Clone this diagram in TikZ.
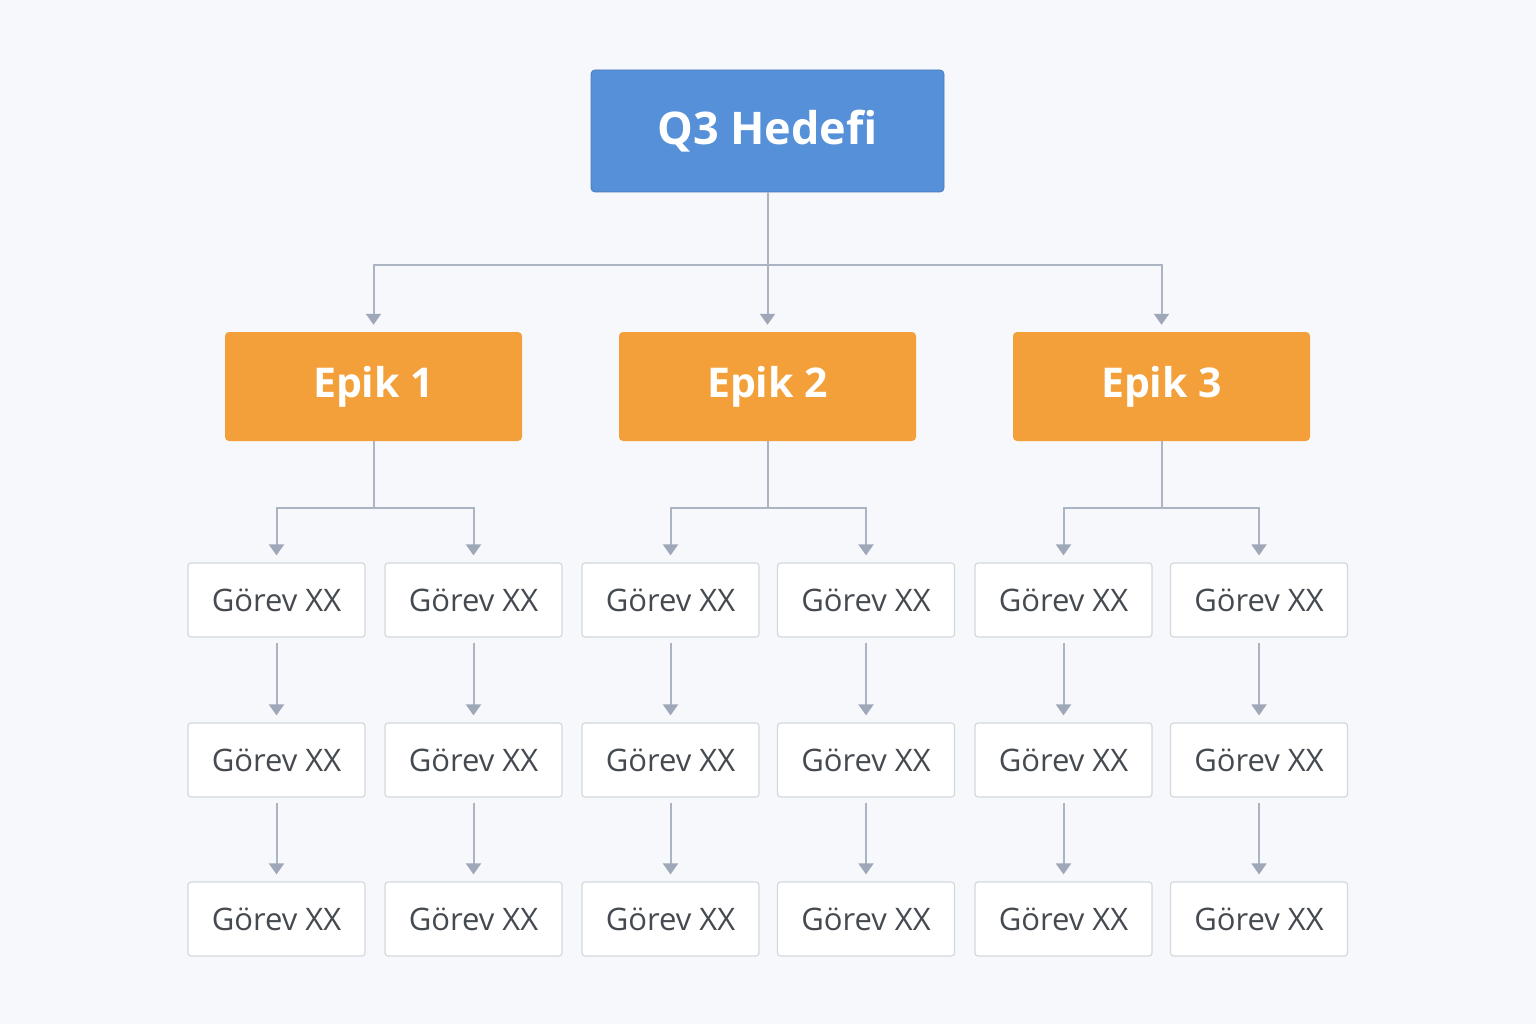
\documentclass[tikz,border=0pt]{standalone}
\usepackage{fontspec}
\setmainfont{Open Sans}
\usetikzlibrary{arrows.meta}
\definecolor{bg}{HTML}{F7F8FB}
\definecolor{blu}{HTML}{5690D8}
\definecolor{org}{HTML}{F3A03A}
\definecolor{ln}{HTML}{AAB4C2}
\definecolor{tip}{HTML}{9EA8B8}
\definecolor{gb}{HTML}{D3D8DE}
\definecolor{gt}{HTML}{454A50}
\begin{document}
\begin{tikzpicture}[x=1pt,y=-1pt,
 goal/.style={fill=blu,draw=blu!85!black,line width=0.8pt,rounded corners=4pt,minimum width=353pt,minimum height=122pt,text=white,font=\fontsize{45}{50}\selectfont\bfseries},
 epik/.style={fill=org,rounded corners=4pt,minimum width=297pt,minimum height=109pt,text=white,font=\fontsize{41}{46}\selectfont\bfseries},
 task/.style={fill=white,draw=gb,line width=1.2pt,rounded corners=3pt,minimum width=177pt,minimum height=74pt,text=gt,font=\fontsize{31}{36}\selectfont},
 con/.style={draw=ln,line width=2pt,-{Triangle[width=15pt,length=11pt,color=tip]},shorten >=7pt}]
\fill[bg] (0,0) rectangle (1536,1024);
\node[goal] (q) at (767.5,131) {Q3 Hedefi};
\node[epik] (e1) at (373.5,386.5) {Epik 1};
\node[epik] (e2) at (767.5,386.5) {Epik 2};
\node[epik] (e3) at (1161.5,386.5) {Epik 3};
\foreach \c/\x in {1/276.5,2/473.5,3/670.5,4/866,5/1063.5,6/1259}{
  \node[task] (t\c a) at (\x,600) {Görev XX};
  \node[task] (t\c b) at (\x,760) {Görev XX};
  \node[task] (t\c c) at (\x,919) {Görev XX};
  \draw[con,shorten <=5pt] (t\c a.south) -- (t\c b.north);
  \draw[con,shorten <=5pt] (t\c b.south) -- (t\c c.north);
}
\foreach \e in {e1,e2,e3}{
  \draw[con] (q.south) -- ++(0,73) -| (\e.north);
}
\foreach \e/\a/\b in {e1/1/2,e2/3/4,e3/5/6}{
  \draw[con] (\e.south) -- ++(0,67) -| (t\a a.north);
  \draw[con] (\e.south) -- ++(0,67) -| (t\b a.north);
}
\end{tikzpicture}
\end{document}
